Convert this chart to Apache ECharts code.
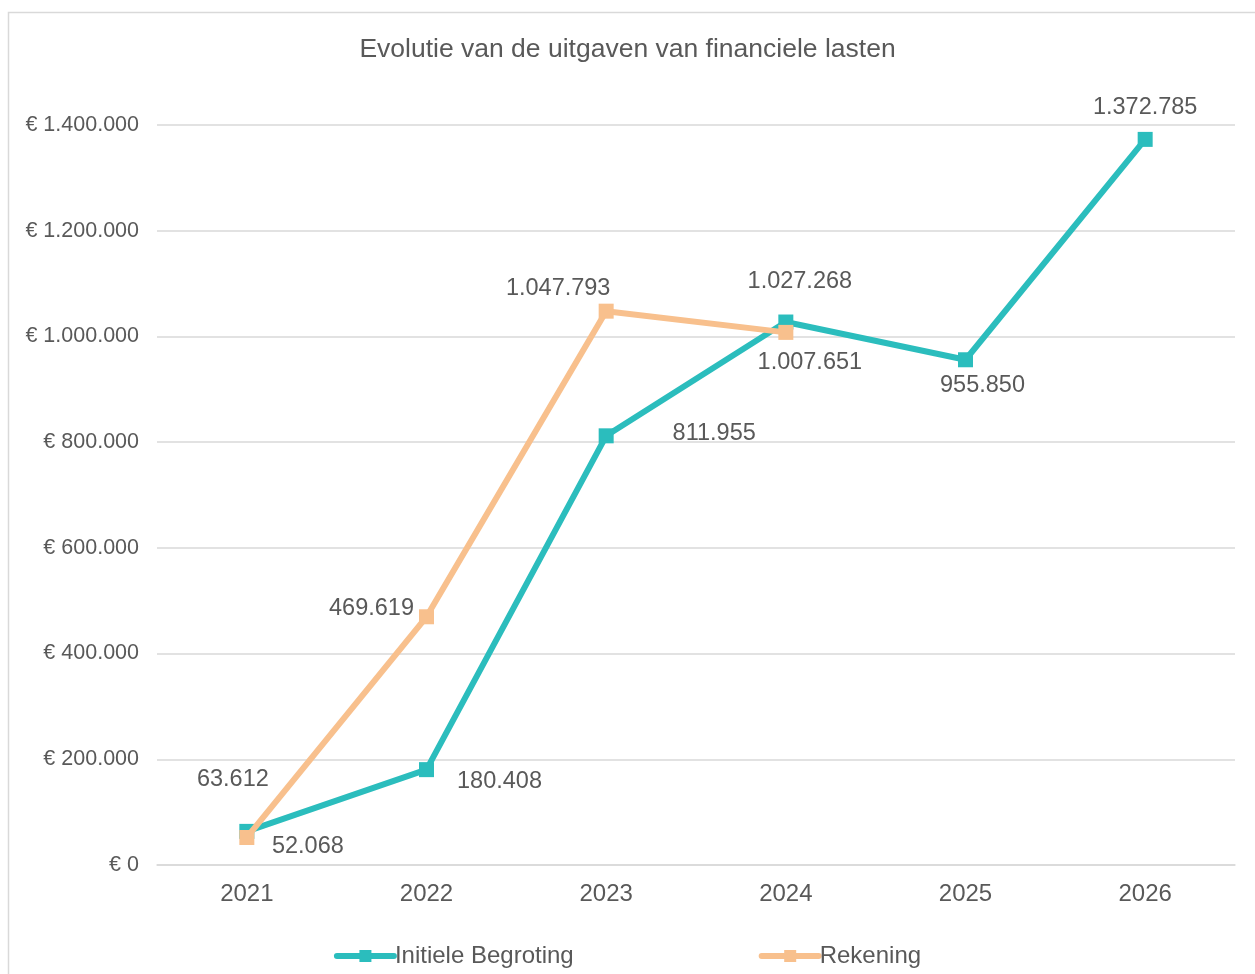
<!DOCTYPE html>
<html>
<head>
<meta charset="utf-8">
<script src="https://cdn.jsdelivr.net/npm/echarts@6/dist/echarts.min.js"></script>
<style>
  html, body { margin: 0; padding: 0; background: #fff; }
  #chart { width: 1255px; height: 974px; }
</style>
</head>
<body>
<div id="chart"></div>
<script>
const years = ['2021', '2022', '2023', '2024', '2025', '2026']
const begroting = [63612, 180408, 811955, 1027268, 955850, 1372785]
const rekening = [52068, 469619, 1047793, 1007651, null, null]

// label offsets per point (dx, dy from the marker)
const begrotingOffsets = [[-14, -52], [73, 12], [108, -2], [14, -40], [17, 26], [0, -32]]
const rekeningOffsets = [[61, 9], [-55, -8], [-48, -23], [24, 30], null, null]

const TEXT = '#595959'
const TEAL = '#2bbdbd'
const ORANGE = '#f8c08d'
const FONT = 'Liberation Sans, Arial, sans-serif'

const fmt = v => Math.round(v).toString().replace(/\B(?=(\d{3})+(?!\d))/g, '.')

const toData = (values, offsets) => values.map((v, i) => {
  if (v === null) return null
  return {
    value: v,
    label: {
      show: true,
      position: 'inside',
      offset: offsets[i],
      formatter: p => fmt(p.value),
      color: TEXT,
      fontSize: 23.5,
      fontFamily: FONT
    }
  }
})

const chart = echarts.init(document.getElementById('chart'))
chart.setOption({
  animation: false,
  backgroundColor: '#fff',
  graphic: [{
    type: 'rect',
    shape: { x: 8.5, y: 12.5, width: 1400, height: 1100 },
    style: { fill: 'none', stroke: '#d9d9d9', lineWidth: 1.5 },
    z: -1
  }],
  title: {
    text: 'Evolutie van de uitgaven van financiele lasten',
    left: 'center',
    top: 31,
    textStyle: { color: TEXT, fontSize: 26.5, fontWeight: 'normal', fontFamily: FONT }
  },
  legend: {
    bottom: 1,
    left: 'center',
    itemGap: 185,
    itemWidth: 57,
    itemHeight: 15,
    lineStyle: { width: 6, cap: 'round' },
    textStyle: { color: TEXT, fontSize: 24, fontFamily: FONT, padding: [0, 0, 0, -4] },
    data: ['Initiele Begroting', 'Rekening']
  },
  grid: { left: 157, right: 20, top: 125, bottom: 109 },
  xAxis: {
    type: 'category',
    data: years,
    boundaryGap: true,
    axisLine: { lineStyle: { color: '#d9d9d9', width: 1.5 } },
    axisTick: { show: false },
    axisLabel: { color: TEXT, fontSize: 24, fontFamily: FONT, margin: 17 }
  },
  yAxis: {
    type: 'value',
    min: 0,
    max: 1400000,
    interval: 200000,
    axisLine: { show: false },
    axisTick: { show: false },
    splitLine: { lineStyle: { color: '#d9d9d9', width: 1.5 } },
    axisLabel: {
      color: TEXT, fontSize: 21.5, fontFamily: FONT, margin: 18,
      formatter: v => '€ ' + fmt(v)
    }
  },
  series: [
    {
      name: 'Initiele Begroting',
      type: 'line',
      data: toData(begroting, begrotingOffsets),
      color: TEAL,
      symbol: 'rect',
      symbolSize: 15,
      lineStyle: { width: 6, color: TEAL },
      itemStyle: { color: TEAL },
      z: 2
    },
    {
      name: 'Rekening',
      type: 'line',
      data: toData(rekening, rekeningOffsets),
      color: ORANGE,
      symbol: 'rect',
      symbolSize: 15,
      lineStyle: { width: 6, color: ORANGE },
      itemStyle: { color: ORANGE },
      z: 3
    }
  ]
})
</script>
</body>
</html>
